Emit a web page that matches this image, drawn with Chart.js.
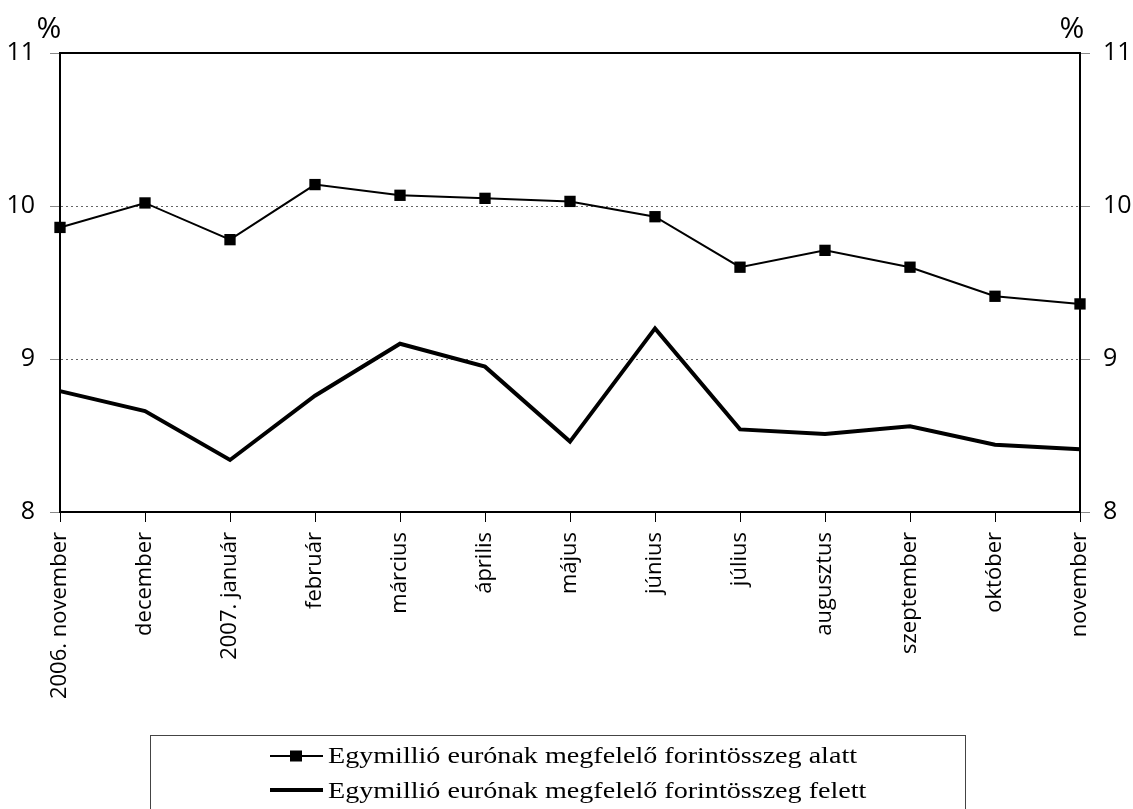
<!DOCTYPE html>
<html>
<head>
<meta charset="utf-8">
<script src="https://cdn.jsdelivr.net/npm/chart.js@4"></script>
<style>
  html, body { margin: 0; padding: 0; background: #fff; }
  #wrap { width: 1133px; height: 809px; position: relative; }
</style>
</head>
<body>
<div id="wrap"><canvas id="chart1"></canvas></div>
<script>
var months = ['2006. november', 'december', '2007. január', 'február', 'március', 'április',
    'május', 'június', 'július', 'augusztus', 'szeptember', 'október', 'november'];
var belowValues = [9.86, 10.02, 9.78, 10.14, 10.07, 10.05, 10.03, 9.93, 9.60, 9.71, 9.60, 9.41, 9.36];
var aboveValues = [8.79, 8.66, 8.34, 8.76, 9.10, 8.95, 8.46, 9.20, 8.54, 8.51, 8.56, 8.44, 8.41];
var yTicks = [8, 9, 10, 11];

var belowLabel = 'Egymillió eurónak megfelelő forintösszeg alatt';
var aboveLabel = 'Egymillió eurónak megfelelő forintösszeg felett';

var xFont = { family: '"Open Sans", sans-serif', size: 22 };
var yFont = { family: '"Open Sans", sans-serif', size: 25 };

// percent signs, top border and the boxed legend
var extras = {
    id: 'extras',
    afterDraw: function(chart) {
        var c = chart.ctx;
        var a = chart.chartArea;
        c.save();
        c.fillStyle = '#000';
        c.font = '30px "Open Sans", sans-serif';
        c.textAlign = 'center';
        c.textBaseline = 'alphabetic';
        c.fillText('%', 49, 38);
        c.fillText('%', 1072, 38);

        c.strokeStyle = '#000';
        c.lineWidth = 2;
        c.beginPath();
        c.moveTo(a.left, a.top);
        c.lineTo(a.right, a.top);
        c.stroke();

        // legend box
        c.lineWidth = 1;
        c.strokeStyle = '#444';
        c.strokeRect(150.5, 735.5, 815, 80);

        c.strokeStyle = '#000';
        c.font = '24px "Liberation Serif", serif';
        c.textAlign = 'left';
        var stretch = 529 / c.measureText(belowLabel).width;
        var rows = [
            { label: belowLabel, y: 756, base: 763, width: 2, marker: true },
            { label: aboveLabel, y: 790, base: 798, width: 4, marker: false }
        ];
        rows.forEach(function(r) {
            c.lineWidth = r.width;
            c.beginPath();
            c.moveTo(270, r.y);
            c.lineTo(323, r.y);
            c.stroke();
            if (r.marker) c.fillRect(290, r.y - 5.5, 12, 11);
            c.save();
            c.translate(328, r.base);
            c.scale(stretch, 1);
            c.fillText(r.label, 0, 0);
            c.restore();
        });
        c.restore();
    }
};

var ctx = document.getElementById('chart1').getContext('2d');
var myChart = new Chart(ctx, {
    type: 'line',
    data: {
        labels: months,
        datasets: [{
            label: belowLabel,
            data: belowValues,
            borderColor: '#000',
            backgroundColor: '#000',
            borderWidth: 2,
            tension: 0,
            pointStyle: 'rect',
            pointRadius: 8,
            pointBorderWidth: 0,
            yAxisID: 'y'
        },
        {
            label: aboveLabel,
            data: aboveValues,
            borderColor: '#000',
            backgroundColor: '#000',
            borderWidth: 4,
            tension: 0,
            pointRadius: 0,
            yAxisID: 'y'
        }]
    },
    options: {
        responsive: true,
        maintainAspectRatio: false,
        animation: false,
        layout: { padding: { top: 53, left: 0, right: 0, bottom: 0 } },
        plugins: {
            legend: { display: false },
            tooltip: { enabled: false }
        },
        scales: {
            x: {
                offset: false,
                afterFit: function(axis) { axis.height = 297; },
                border: { color: '#000', width: 2 },
                grid: { drawOnChartArea: false, color: '#000', tickLength: 10 },
                ticks: {
                    color: '#000',
                    font: xFont,
                    minRotation: 90,
                    maxRotation: 90,
                    autoSkip: false,
                    padding: 10
                }
            },
            y: {
                position: 'left',
                min: 8,
                max: 11,
                afterFit: function(axis) { axis.width = 60; },
                afterBuildTicks: function(axis) {
                    axis.ticks = yTicks.map(function(v) { return { value: v }; });
                },
                border: { color: '#000', width: 2, dash: [2, 3] },
                grid: {
                    color: function(c) {
                        return (c.tick.value === 9 || c.tick.value === 10) ? '#666' : 'rgba(0,0,0,0)';
                    },
                    tickColor: '#888',
                    tickLength: 10,
                    lineWidth: 1
                },
                ticks: { color: '#000', font: yFont, padding: 15 }
            },
            y2: {
                position: 'right',
                min: 8,
                max: 11,
                afterFit: function(axis) { axis.width = 53; },
                afterBuildTicks: function(axis) {
                    axis.ticks = yTicks.map(function(v) { return { value: v }; });
                },
                border: { color: '#000', width: 2 },
                grid: { drawOnChartArea: false, tickColor: '#888', tickLength: 10 },
                ticks: { color: '#000', font: yFont, padding: 13 }
            }
        }
    },
    plugins: [extras]
});
</script>
</body>
</html>
